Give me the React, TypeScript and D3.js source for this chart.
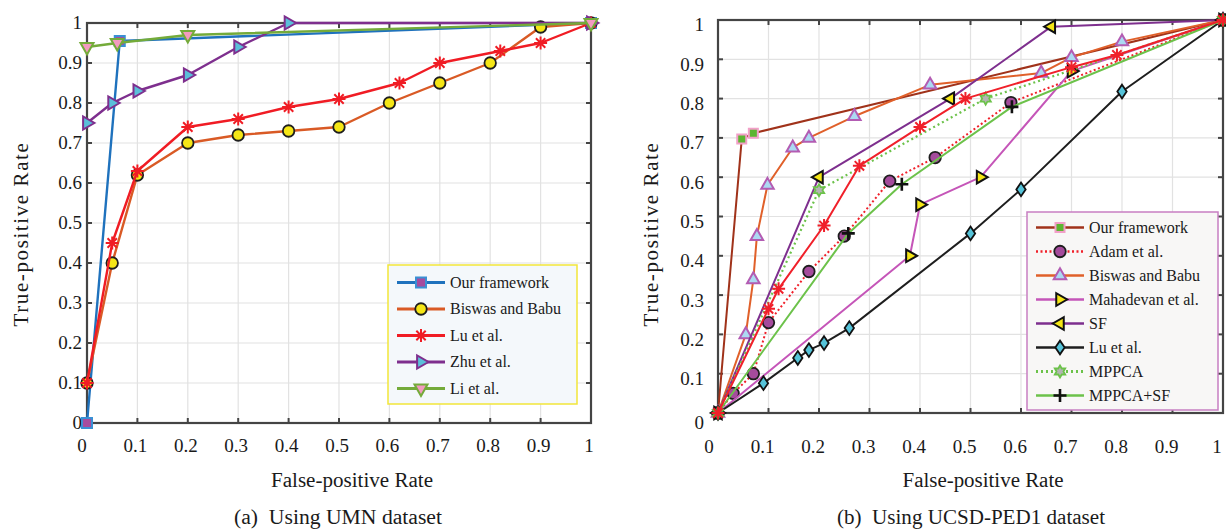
import React, { useEffect, useRef } from 'react';
import * as d3 from 'd3';

type Pt = [number, number];

const tickValues = [0, 0.1, 0.2, 0.3, 0.4, 0.5, 0.6, 0.7, 0.8, 0.9, 1];
const tickLabels = ['0', '0.1', '0.2', '0.3', '0.4', '0.5', '0.6', '0.7', '0.8', '0.9', '1'];

// (a) UMN dataset
const umnOurFramework: Pt[] = [[0, 0], [0.065, 0.955], [1, 1]];
const umnBiswasBabu: Pt[] = [[0, 0.1], [0.05, 0.4], [0.1, 0.62], [0.2, 0.7], [0.3, 0.72], [0.4, 0.73], [0.5, 0.74], [0.6, 0.8], [0.7, 0.85], [0.8, 0.9], [0.9, 0.99], [1, 1]];
const umnLu: Pt[] = [[0, 0.1], [0.05, 0.45], [0.1, 0.63], [0.2, 0.74], [0.3, 0.76], [0.4, 0.79], [0.5, 0.81], [0.62, 0.85], [0.7, 0.9], [0.82, 0.93], [0.9, 0.95], [1, 1]];
const umnZhu: Pt[] = [[0, 0.75], [0.05, 0.8], [0.1, 0.83], [0.2, 0.87], [0.3, 0.94], [0.4, 1], [1, 1]];
const umnLi: Pt[] = [[0, 0.94], [0.06, 0.95], [0.2, 0.97], [1, 1]];

// (b) UCSD-PED1 dataset
const pedOurFramework: Pt[] = [[0, 0], [0.047, 0.697], [0.07, 0.712], [1, 1]];
const pedAdam: Pt[] = [[0, 0], [0.03, 0.05], [0.07, 0.1], [0.1, 0.23], [0.18, 0.36], [0.25, 0.45], [0.34, 0.59], [0.43, 0.65], [0.58, 0.79], [1, 1]];
const pedBiswasBabu: Pt[] = [[0, 0], [0.055, 0.2], [0.07, 0.34], [0.077, 0.45], [0.098, 0.58], [0.148, 0.675], [0.18, 0.7], [0.27, 0.755], [0.42, 0.835], [0.64, 0.865], [0.7, 0.905], [0.8, 0.945], [1, 1]];
const pedMahadevan: Pt[] = [[0, 0], [0.38, 0.4], [0.4, 0.53], [0.52, 0.6], [0.7, 0.87], [1, 1]];
const pedSF: Pt[] = [[0, 0], [0.2, 0.6], [0.46, 0.8], [0.66, 0.983], [1, 1]];
const pedLu: Pt[] = [[0, 0], [0.09, 0.076], [0.158, 0.14], [0.18, 0.16], [0.21, 0.178], [0.26, 0.216], [0.5, 0.457], [0.6, 0.569], [0.8, 0.818], [1, 1]];
const pedMPPCA: Pt[] = [[0, 0], [0.2, 0.567], [0.53, 0.8], [1, 1]];
const pedMPPCASF: Pt[] = [[0, 0], [0.258, 0.457], [0.364, 0.582], [0.582, 0.779], [1, 1]];
const pedUnlabelled: Pt[] = [[0, 0], [0.1, 0.265], [0.12, 0.316], [0.21, 0.477], [0.28, 0.629], [0.4, 0.728], [0.49, 0.8], [0.7, 0.88], [0.79, 0.911], [1, 1]];

interface Series {
  name: string | null;
  data: Pt[];
  color: string;
  width: number;
  dash?: string;
  marker: string;
  size: number;
  fill: string;
  edge: string;
  edgeWidth: number;
}

const umnSeries: Series[] = [
  { name: 'Our framework', data: umnOurFramework, color: '#1f72bd', width: 2.4, marker: 'square', size: 10, fill: '#a64c9e', edge: '#3a90d4', edgeWidth: 2 },
  { name: 'Biswas and Babu', data: umnBiswasBabu, color: '#d95a25', width: 2.4, marker: 'circle', size: 11.5, fill: '#f5e616', edge: '#1e1e1e', edgeWidth: 1.8 },
  { name: 'Lu et al.', data: umnLu, color: '#f01c24', width: 2.4, marker: 'asterisk', size: 13, fill: 'none', edge: '#f01c24', edgeWidth: 2 },
  { name: 'Zhu et al.', data: umnZhu, color: '#7e2f8e', width: 2.4, marker: 'triRight', size: 13, fill: '#5bbfd9', edge: '#7e2f8e', edgeWidth: 2 },
  { name: 'Li et al.', data: umnLi, color: '#74ab3a', width: 2.4, marker: 'triDown', size: 13, fill: '#f29ac0', edge: '#74ab3a', edgeWidth: 2 },
];

const pedSeries: Series[] = [
  { name: 'Our framework', data: pedOurFramework, color: '#a0321a', width: 2, marker: 'square', size: 9, fill: '#5cb531', edge: '#f2a0c8', edgeWidth: 2 },
  { name: 'Adam et al.', data: pedAdam, color: '#f0202a', width: 2, dash: '2,2.5', marker: 'circle', size: 11.5, fill: '#a54b9c', edge: '#1e1e1e', edgeWidth: 1.8 },
  { name: 'Biswas and Babu', data: pedBiswasBabu, color: '#e0602a', width: 2, marker: 'triUp', size: 12.5, fill: '#acd9f2', edge: '#b35cb3', edgeWidth: 2 },
  { name: 'Mahadevan et al.', data: pedMahadevan, color: '#c555b8', width: 2, marker: 'triRight', size: 12.5, fill: '#f5e616', edge: '#111', edgeWidth: 2 },
  { name: 'SF', data: pedSF, color: '#7e2f8e', width: 2, marker: 'triLeft', size: 12.5, fill: '#f5e616', edge: '#111', edgeWidth: 2 },
  { name: 'Lu et al.', data: pedLu, color: '#1e1e1e', width: 2, marker: 'diamond', size: 11, fill: '#55c3d9', edge: '#111', edgeWidth: 1.8 },
  { name: 'MPPCA', data: pedMPPCA, color: '#6cc24a', width: 2.2, dash: '2,3', marker: 'hexagram', size: 12, fill: '#b4b4b4', edge: '#6cc24a', edgeWidth: 1.8 },
  { name: 'MPPCA+SF', data: pedMPPCASF, color: '#6cc24a', width: 2, marker: 'plus', size: 13, fill: 'none', edge: '#111', edgeWidth: 2.6 },
  { name: null, data: pedUnlabelled, color: '#f0202a', width: 2, marker: 'asterisk', size: 13, fill: 'none', edge: '#f0202a', edgeWidth: 2 },
];

function markerPath(kind: string, s: number): string {
  const r = s / 2;
  switch (kind) {
    case 'square': return `M${-r},${-r}H${r}V${r}H${-r}Z`;
    case 'circle': return d3.symbol(d3.symbolCircle, Math.PI * r * r)() as string;
    case 'triUp': return `M0,${-r * 1.15}L${r},${r * 0.6}L${-r},${r * 0.6}Z`;
    case 'triDown': return `M0,${r * 1.15}L${r},${-r * 0.6}L${-r},${-r * 0.6}Z`;
    case 'triRight': return `M${r * 1.15},0L${-r * 0.6},${r}L${-r * 0.6},${-r}Z`;
    case 'triLeft': return `M${-r * 1.15},0L${r * 0.6},${r}L${r * 0.6},${-r}Z`;
    case 'diamond': return `M0,${-r * 1.25}L${r * 0.85},0L0,${r * 1.25}L${-r * 0.85},0Z`;
    case 'plus': return `M${-r},0H${r}M0,${-r}V${r}`;
    case 'asterisk': {
      const d = r * 0.72;
      return `M${-r},0H${r}M0,${-r}V${r}M${-d},${-d}L${d},${d}M${-d},${d}L${d},${-d}`;
    }
    case 'hexagram': {
      const pts = d3.range(12).map(i => {
        const a = (i * Math.PI) / 6 - Math.PI / 2;
        const rr = i % 2 === 0 ? r : r * 0.58;
        return [rr * Math.cos(a), rr * Math.sin(a)];
      });
      return 'M' + pts.map(p => p.join(',')).join('L') + 'Z';
    }
  }
  return '';
}

interface Panel {
  series: Series[];
  x0: number; x1: number; y0: number; y1: number;
  xTickBase: number; xTickDx: number; yTickEnd: number; yTickDy: number;
  yLabelX: number; xLabelX: number; xLabelLen: number;
  captionX: number; captionLen: number; caption: string;
  legend: { x: number; y: number; w: number; h: number; row0: number; step: number; border: string; fill: string };
}

const panels: Panel[] = [
  {
    series: umnSeries, x0: 87, x1: 591, y0: 423, y1: 23,
    xTickBase: 452, xTickDx: -2, yTickEnd: 82, yTickDy: 0,
    yLabelX: 28, xLabelX: 352, xLabelLen: 162,
    captionX: 338, captionLen: 208, caption: '(a)  Using UMN dataset',
    legend: { x: 388, y: 265, w: 189, h: 139, row0: 282.5, step: 26.5, border: '#f2e63a', fill: '#f4f8fb' },
  },
  {
    series: pedSeries, x0: 718, x1: 1223, y0: 413, y1: 20,
    xTickBase: 453, xTickDx: -6, yTickEnd: 704, yTickDy: 5,
    yLabelX: 658, xLabelX: 983, xLabelLen: 161,
    captionX: 971, captionLen: 268, caption: '(b)  Using UCSD-PED1 dataset',
    legend: { x: 1027, y: 212, w: 191, h: 198, row0: 227.5, step: 24, border: '#c77fc2', fill: '#f8f7f6' },
  },
];

const FONT = '"Liberation Serif", "Times New Roman", serif';

function drawMarker(g: d3.Selection<SVGGElement, unknown, null, undefined>, s: Series, cx: number, cy: number) {
  g.append('path')
    .attr('d', markerPath(s.marker, s.size))
    .attr('transform', `translate(${cx},${cy})`)
    .attr('fill', s.fill)
    .attr('stroke', s.edge)
    .attr('stroke-width', s.edgeWidth)
    .attr('stroke-linejoin', 'miter');
}

export default function App() {
  const svgRef = useRef<SVGSVGElement>(null);

  useEffect(() => {
    const svg = d3.select(svgRef.current);
    svg.selectAll('*').remove();

    panels.forEach(p => {
      const x = d3.scaleLinear().domain([0, 1]).range([p.x0, p.x1]);
      const y = d3.scaleLinear().domain([0, 1]).range([p.y0, p.y1]);
      const g = svg.append('g');

      // grid
      g.selectAll('line.vgrid').data(tickValues).enter().append('line')
        .attr('x1', d => x(d)).attr('x2', d => x(d))
        .attr('y1', p.y0).attr('y2', p.y1)
        .attr('stroke', '#e2e2e2').attr('stroke-width', 1.2);
      g.selectAll('line.hgrid').data(tickValues).enter().append('line')
        .attr('y1', d => y(d)).attr('y2', d => y(d))
        .attr('x1', p.x0).attr('x2', p.x1)
        .attr('stroke', '#e2e2e2').attr('stroke-width', 1.2);

      // box and inward ticks
      g.append('rect')
        .attr('x', p.x0).attr('y', p.y1)
        .attr('width', p.x1 - p.x0).attr('height', p.y0 - p.y1)
        .attr('fill', 'none').attr('stroke', '#444').attr('stroke-width', 2.2);
      const tk = 5;
      tickValues.forEach(t => {
        [[x(t), p.y0, x(t), p.y0 - tk], [x(t), p.y1, x(t), p.y1 + tk],
         [p.x0, y(t), p.x0 + tk, y(t)], [p.x1, y(t), p.x1 - tk, y(t)]].forEach(c => {
          g.append('line')
            .attr('x1', c[0]).attr('y1', c[1]).attr('x2', c[2]).attr('y2', c[3])
            .attr('stroke', '#444').attr('stroke-width', 2);
        });
      });

      // tick labels
      g.selectAll('text.xt').data(tickValues).enter().append('text')
        .attr('x', (d, i) => x(d) + p.xTickDx + (i === 0 ? -3 : 0))
        .attr('y', p.xTickBase)
        .attr('text-anchor', 'middle')
        .attr('font-family', FONT).attr('font-size', 19).attr('fill', '#1a1a1a')
        .text((d, i) => tickLabels[i]);
      g.selectAll('text.yt').data(tickValues).enter().append('text')
        .attr('x', p.yTickEnd)
        .attr('y', (d, i) => y(d) + p.yTickDy + (i === 0 && p.yTickDy > 0 ? 5 : 0))
        .attr('dy', '0.34em')
        .attr('text-anchor', 'end')
        .attr('font-family', FONT).attr('font-size', 19).attr('fill', '#1a1a1a')
        .text((d, i) => tickLabels[i]);

      // series
      const line = d3.line<Pt>().x(d => x(d[0])).y(d => y(d[1]));
      p.series.forEach(s => {
        g.append('path')
          .attr('d', line(s.data))
          .attr('fill', 'none')
          .attr('stroke', s.color)
          .attr('stroke-width', s.width)
          .attr('stroke-dasharray', s.dash || null)
          .attr('stroke-linejoin', 'round');
        s.data.forEach(d => drawMarker(g, s, x(d[0]), y(d[1])));
      });

      // axis titles
      g.append('text')
        .attr('transform', `translate(${p.yLabelX},234) rotate(-90)`)
        .attr('text-anchor', 'middle')
        .attr('font-family', FONT).attr('font-size', 21).attr('letter-spacing', 1.6)
        .attr('fill', '#1a1a1a')
        .text('True-positive Rate');
      g.append('text')
        .attr('x', p.xLabelX).attr('y', 487)
        .attr('text-anchor', 'middle')
        .attr('font-family', FONT).attr('font-size', 20)
        .attr('textLength', p.xLabelLen).attr('lengthAdjust', 'spacingAndGlyphs')
        .attr('fill', '#1a1a1a')
        .text('False-positive Rate');
      g.append('text')
        .attr('x', p.captionX).attr('y', 524)
        .attr('text-anchor', 'middle')
        .attr('font-family', FONT).attr('font-size', 20)
        .attr('textLength', p.captionLen).attr('lengthAdjust', 'spacingAndGlyphs')
        .attr('fill', '#1a1a1a')
        .style('white-space', 'pre')
        .text(p.caption);

      // legend
      const L = p.legend;
      const lg = g.append('g');
      lg.append('rect')
        .attr('x', L.x).attr('y', L.y).attr('width', L.w).attr('height', L.h)
        .attr('fill', L.fill).attr('stroke', L.border).attr('stroke-width', 1.5);
      p.series.filter(s => s.name).forEach((s, i) => {
        const cy = L.row0 + i * L.step;
        lg.append('line')
          .attr('x1', L.x + 9).attr('x2', L.x + 57).attr('y1', cy).attr('y2', cy)
          .attr('stroke', s.color).attr('stroke-width', s.width + 0.6)
          .attr('stroke-dasharray', s.dash || null);
        drawMarker(lg, s, L.x + 33, cy);
        lg.append('text')
          .attr('x', L.x + 62).attr('y', cy).attr('dy', '0.34em')
          .attr('font-family', FONT).attr('font-size', 16).attr('fill', '#1a1a1a')
          .text(s.name as string);
      });
    });
  }, []);

  return (
    <svg ref={svgRef} width={1226} height={529}
      style={{ position: 'absolute', left: 0, top: 0, background: '#fff' }} />
  );
}
